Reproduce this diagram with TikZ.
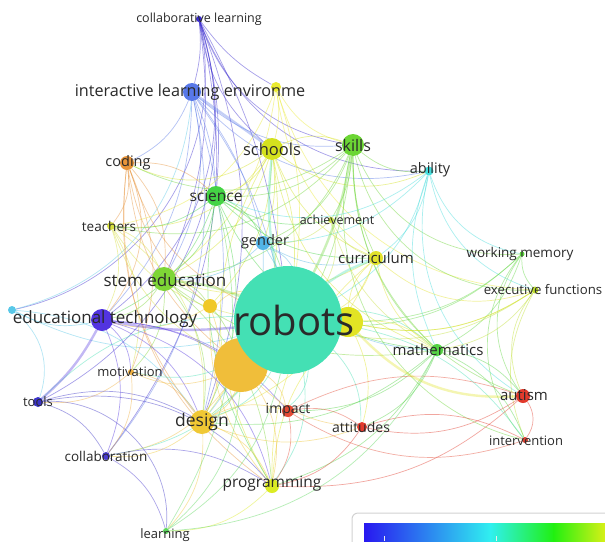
\documentclass[tikz,border=0pt]{standalone}
\usepackage{fontspec}
\setmainfont{Open Sans}
\usetikzlibrary{backgrounds}

% node colours (overlay scale: blue -> cyan -> green -> yellow -> red)
\definecolor{ccl}{HTML}{3A2BD0}
\definecolor{cile}{HTML}{5878E8}
\definecolor{cydot}{HTML}{EAEA30}
\definecolor{csch}{HTML}{D4E21E}
\definecolor{cski}{HTML}{6CD634}
\definecolor{cabi}{HTML}{44DCDC}
\definecolor{ccod}{HTML}{E8943A}
\definecolor{csci}{HTML}{44D444}
\definecolor{ctea}{HTML}{D8E040}
\definecolor{cach}{HTML}{C8E040}
\definecolor{cgen}{HTML}{52B4E6}
\definecolor{ccur}{HTML}{E2E22A}
\definecolor{cwm}{HTML}{60D840}
\definecolor{cef}{HTML}{C0E030}
\definecolor{cstem}{HTML}{7ED636}
\definecolor{cysm}{HTML}{F0C828}
\definecolor{cedt}{HTML}{5234E0}
\definecolor{clb}{HTML}{58C8E8}
\definecolor{crob}{HTML}{44E0B4}
\definecolor{cyrob}{HTML}{E2E424}
\definecolor{cobig}{HTML}{F0BE3A}
\definecolor{cmat}{HTML}{54D444}
\definecolor{cmot}{HTML}{F0B040}
\definecolor{ctoo}{HTML}{3C34C8}
\definecolor{cdes}{HTML}{F0C834}
\definecolor{cimp}{HTML}{E44A34}
\definecolor{caut}{HTML}{E23A2C}
\definecolor{catt}{HTML}{E23A2C}
\definecolor{cint}{HTML}{E04030}
\definecolor{ccol}{HTML}{4A3AD0}
\definecolor{cpro}{HTML}{DCEC24}
\definecolor{clea}{HTML}{5CD85C}
\definecolor{kwtext}{HTML}{2A2A2A}
\definecolor{lgblue}{HTML}{2818F0}
\definecolor{lgcyan}{HTML}{30F0F0}
\definecolor{lggreen}{HTML}{20F010}
\definecolor{lgyellow}{HTML}{E8F018}

\begin{document}
\begin{tikzpicture}[x=1pt,y=-1pt,
    dot/.style={circle, inner sep=0pt, minimum size=#1},
    kw/.style={font=\fontsize{#1}{#1}\selectfont, text=kwtext, inner sep=0pt},
    conn/.style={line width=0.7pt, draw opacity=0.45},
    thickconn/.style={line width=2.4pt, draw opacity=0.35}]
    \useasboundingbox (0,0) rectangle (605,541);

    % Keyword circles
    \node[dot=6,  fill=ccl]   (cl)   at (199,19)  {};
    \node[dot=18, fill=cile]  (ile)  at (192,92)  {};
    \node[dot=10, fill=cydot] (ydot) at (276,87)  {};
    \node[dot=22, fill=csch]  (sch)  at (272,149) {};
    \node[dot=22, fill=cski]  (ski)  at (353,145) {};
    \node[dot=9,  fill=cabi]  (abi)  at (429,171) {};
    \node[dot=14, fill=ccod]  (cod)  at (127,163) {};
    \node[dot=20, fill=csci]  (sci)  at (216,196) {};
    \node[dot=8,  fill=ctea]  (tea)  at (111,226) {};
    \node[dot=6,  fill=cach]  (ach)  at (331,220) {};
    \node[dot=14, fill=cgen]  (gen)  at (263,243) {};
    \node[dot=14, fill=ccur]  (cur)  at (376,258) {};
    \node[dot=5,  fill=cwm]   (wm)   at (522,254) {};
    \node[dot=7,  fill=cef]   (ef)   at (535,290) {};
    \node[dot=24, fill=cstem] (stem) at (164,279) {};
    \node[dot=14, fill=cysm]  (ysm)  at (210,306) {};
    \node[dot=22, fill=cedt]  (edt)  at (102,320) {};
    \node[dot=8,  fill=clb]   (lb)   at (12,310)  {};
    \node[dot=30, fill=cyrob] (yrob) at (348,322) {};
    \node[dot=54, fill=cobig] (obig) at (241,365) {};
    \node[dot=108,fill=crob]  (rob)  at (288,320) {};
    \node[dot=12, fill=cmat]  (mat)  at (437,350) {};
    \node[dot=6,  fill=cmot]  (mot)  at (131,372) {};
    \node[dot=10, fill=ctoo]  (too)  at (38,402)  {};
    \node[dot=24, fill=cdes]  (des)  at (202,422) {};
    \node[dot=12, fill=cimp]  (imp)  at (288,411) {};
    \node[dot=14, fill=caut]  (aut)  at (523,396) {};
    \node[dot=10, fill=catt]  (att)  at (362,427) {};
    \node[dot=6,  fill=cint]  (int)  at (525,440) {};
    \node[dot=8,  fill=ccol]  (col)  at (106,456) {};
    \node[dot=14, fill=cpro]  (pro)  at (272,486) {};
    \node[dot=6,  fill=clea]  (lea)  at (166,531) {};

    % Co-occurrence links (coloured by source)
    \begin{pgfonlayer}{background}
        \fill[white] (0,0) rectangle (605,541);
        \foreach \a/\b/\c in {cl/ile/10, cl/edt/35, cl/too/40, cl/col/25, cl/sch/-20, cl/ski/-30,
            cl/ydot/-12, cl/rob/10, cl/des/20, cl/lb/45, cl/sci/10, cl/abi/-35, cl/stem/15,
            lb/edt/-20, lb/ile/-35, lb/too/35, lb/rob/-20, too/lea/50, lb/des/25,
            ile/rob/10, ile/sci/10, ile/gen/12, ile/edt/20, ile/ski/-22, ile/abi/-30,
            ile/cod/20, ile/stem/20, ile/col/25, ile/des/15,
            ydot/sch/12, ydot/ski/-22, ydot/rob/12, ydot/cur/-22, ydot/ef/-35, ydot/stem/22, ydot/tea/30,
            sch/ski/22, sch/sci/22, sch/rob/12, sch/stem/22, sch/cur/-22, sch/gen/12, sch/tea/30,
            sch/cod/30, sch/abi/-30, sch/des/22, sch/pro/-30, sch/mat/-30, sch/ysm/20,
            ski/sci/22, ski/cur/-12, ski/abi/-22, ski/wm/-35, ski/ef/-40, ski/mat/-22,
            ski/stem/30, ski/ach/12, ski/gen/22, ski/cod/30, ski/tea/30, ski/des/22, ski/int/-45, ski/aut/-35,
            abi/rob/22, abi/wm/-30, abi/mat/-22, abi/cur/22, abi/ef/-30, abi/gen/22, abi/sci/30, abi/aut/-35,
            cod/sci/22, cod/rob/-22, cod/stem/22, cod/tea/22, cod/edt/30, cod/des/-22,
            cod/pro/-30, cod/obig/-22, cod/mot/22, cod/ysm/-20,
            sci/rob/22, sci/stem/22, sci/gen/22, sci/tea/22, sci/cur/-22, sci/ach/-22,
            sci/des/22, sci/mat/-30, sci/edt/22, sci/pro/-20,
            tea/stem/22, tea/rob/-22, tea/edt/22, tea/des/30, tea/mot/22, tea/obig/-20,
            ach/rob/22, ach/cur/-22, ach/gen/22, ach/mat/-22,
            gen/rob/22, gen/stem/22, gen/cur/-22, gen/mat/-30, gen/des/20,
            cur/rob/22, cur/mat/-22, cur/stem/22, cur/ef/-30, cur/des/22, cur/pro/-25,
            wm/ef/-22, wm/mat/22, wm/aut/-35, wm/rob/22, wm/int/-40, wm/yrob/20,
            ef/mat/22, ef/rob/22, ef/aut/-30, ef/yrob/22, ef/int/-25,
            stem/edt/22, stem/des/22, stem/obig/22, stem/ysm/22, stem/mot/22, stem/pro/22, stem/mat/-22,
            ysm/rob/22, ysm/des/22, ysm/edt/22, ysm/pro/-20,
            edt/obig/12, edt/col/22, edt/des/22, edt/mot/22, edt/pro/30, edt/imp/22,
            rob/yrob/22, rob/obig/22, rob/mat/22, rob/des/22, rob/imp/22, rob/att/22,
            rob/pro/22, rob/col/22, rob/too/-22, rob/mot/22, rob/int/22,
            yrob/mat/22, yrob/cur/22, yrob/ef/-22, yrob/att/20, yrob/pro/-20,
            obig/des/22, obig/imp/22, obig/pro/22, obig/mot/22, obig/col/22, obig/att/-20,
            mat/aut/22, mat/att/22, mat/imp/22, mat/int/22, mat/pro/22, mat/des/22,
            mot/des/22, mot/col/22, mot/too/22,
            too/col/22, too/des/22, too/pro/30,
            des/pro/22, des/imp/22, des/col/22, des/lea/22, des/att/-20,
            imp/att/22, imp/pro/22, imp/aut/22, imp/int/-25,
            aut/att/22, aut/int/35, aut/pro/22, att/int/22, att/pro/22,
            col/lea/22, col/pro/22, pro/lea/22,
            lea/rob/-22, lea/obig/-22, lea/mat/-30, lea/sci/-22} {
            \draw[conn, draw=c\a] (\a) to[bend left=\c] (\b);
        }
        \foreach \a/\b/\c in {ile/sch/0, ski/rob/8, stem/rob/8, edt/rob/-8, edt/too/10,
            yrob/aut/-25, rob/sch/8, rob/cur/8} {
            \draw[thickconn, draw=c\a] (\a) to[bend left=\c] (\b);
        }
    \end{pgfonlayer}

    % Keyword labels
    \node[kw=12.5] (cl-t)   at (cl)   {collaborative learning};
    \node[kw=16.2] (ile-t)  at (190,92) {interactive learning environme};
    \node[kw=16.5] (sch-t)  at (sch)  {schools};
    \node[kw=16]   (ski-t)  at (ski)  {skills};
    \node[kw=14.5] (abi-t)  at (430,170) {ability};
    \node[kw=14.5] (cod-t)  at (128,163) {coding};
    \node[kw=15.5] (sci-t)  at (sci)  {science};
    \node[kw=13.5] (tea-t)  at (109,226) {teachers};
    \node[kw=12.5] (ach-t)  at (337,220) {achievement};
    \node[kw=14.5] (gen-t)  at (265,242) {gender};
    \node[kw=15]   (cur-t)  at (376,258) {curriculum};
    \node[kw=13.5] (wm-t)   at (520,254) {working memory};
    \node[kw=13.2] (ef-t)   at (543,290) {executive functions};
    \node[kw=17]   (stem-t) at (165,280) {stem education};
    \node[kw=17]   (edt-t)  at (105,319) {educational technology};
    \node[kw=40]   (rob-t)  at (294,320) {robots};
    \node[kw=15]   (mat-t)  at (438,350) {mathematics};
    \node[kw=13]   (mot-t)  at (130,372) {motivation};
    \node[kw=13]   (too-t)  at (too)  {tools};
    \node[kw=17.5] (des-t)  at (des)  {design};
    \node[kw=14]   (imp-t)  at (288,410) {impact};
    \node[kw=15]   (aut-t)  at (524,395) {autism};
    \node[kw=14]   (att-t)  at (361,427) {attitudes};
    \node[kw=13]   (int-t)  at (526,441) {intervention};
    \node[kw=13.5] (col-t)  at (106,456) {collaboration};
    \node[kw=15.5] (pro-t)  at (272,484) {programming};
    \node[kw=13]   (lea-t)  at (165,535) {learning};

    % Colour scale legend
    \draw[fill=white, draw=gray!35, line width=1pt, rounded corners=6pt] (352,513) rectangle (640,580);
    \shade[left color=lgblue, right color=lgcyan] (364,523) rectangle (491,560);
    \shade[left color=lgcyan, right color=lggreen] (490,523) rectangle (554,560);
    \shade[left color=lggreen, right color=lgyellow] (553,523) rectangle (610,560);
    \draw[white!85!gray, line width=0.8pt] (384,536) -- (384,541);
    \draw[white!85!gray, line width=0.8pt] (496,536) -- (496,541);
\end{tikzpicture}
\end{document}
